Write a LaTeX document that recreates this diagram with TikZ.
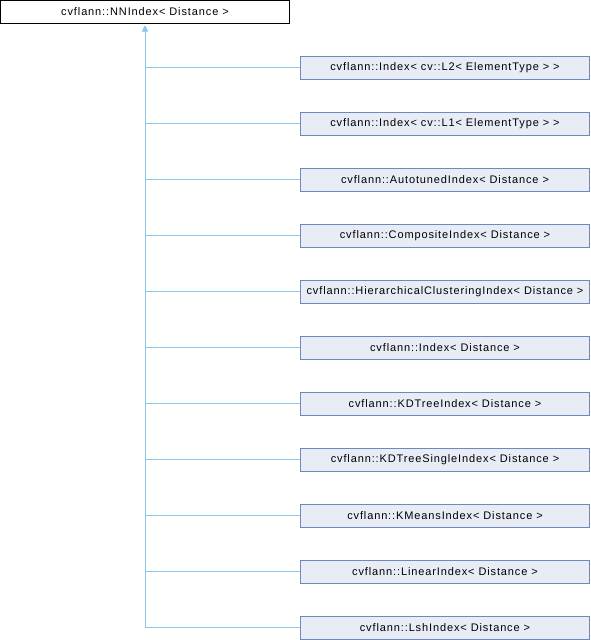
\documentclass[tikz,border=0pt]{standalone}
\usepackage{fontspec}
\setmainfont{Liberation Sans}
\newfontfamily\dxfont[LetterSpace=8]{Liberation Sans}
\usetikzlibrary{arrows.meta}
\definecolor{boxfill}{HTML}{E8ECF5}
\definecolor{boxdraw}{HTML}{6F88C4}
\definecolor{edgecol}{HTML}{8CC8EC}
\tikzset{
  cls/.style={draw=boxdraw, fill=boxfill, line width=1pt, minimum width=289pt, minimum height=23pt, inner sep=0pt, font=\dxfont\fontsize{11}{13}\selectfont, anchor=center},
  rootcls/.style={cls, draw=black, fill=white},
  inh/.style={draw=edgecol, line width=1pt, shorten >=2pt, -{Triangle[width=5pt,length=5pt]}}
}
\begin{document}
\begin{tikzpicture}[x=1pt,y=-1pt]
\useasboundingbox (0,0) rectangle (590,640);
\node[rootcls] (root) at (145,12) {cvflann::NNIndex< Distance >};
\node[cls] (c1) at (445,67.5) {cvflann::Index< cv::L2< ElementType > >};
\node[cls] (c2) at (445,123.5) {cvflann::Index< cv::L1< ElementType > >};
\node[cls] (c3) at (445,179.5) {cvflann::AutotunedIndex< Distance >};
\node[cls] (c4) at (445,235.5) {cvflann::CompositeIndex< Distance >};
\node[cls] (c5) at (445,291.5) {cvflann::HierarchicalClusteringIndex< Distance >};
\node[cls] (c6) at (445,347.5) {cvflann::Index< Distance >};
\node[cls] (c7) at (445,403.5) {cvflann::KDTreeIndex< Distance >};
\node[cls] (c8) at (445,459.5) {cvflann::KDTreeSingleIndex< Distance >};
\node[cls] (c9) at (445,515.5) {cvflann::KMeansIndex< Distance >};
\node[cls] (c10) at (445,571.5) {cvflann::LinearIndex< Distance >};
\node[cls] (c11) at (445,627.5) {cvflann::LshIndex< Distance >};
\foreach \c in {c11,c10,c9,c8,c7,c6,c5,c4,c3,c2,c1}{
  \draw[inh] (\c.west) -| (root.south);
}
\end{tikzpicture}
\end{document}
